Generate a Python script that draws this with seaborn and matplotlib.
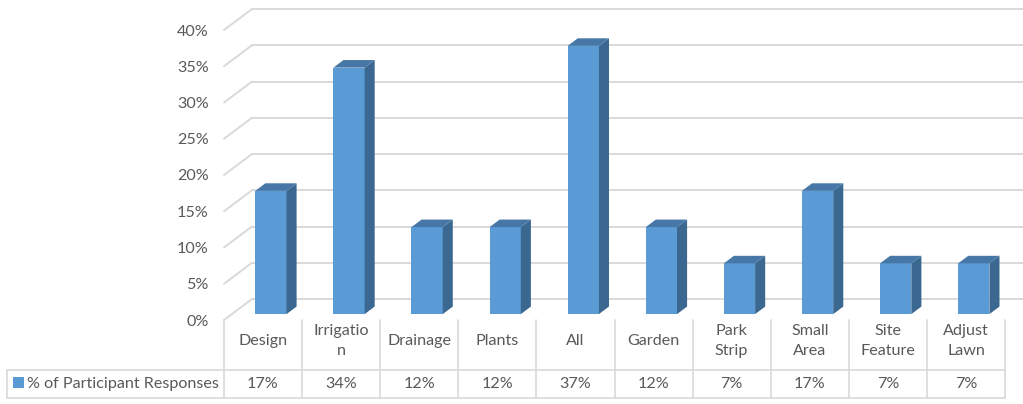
import matplotlib
matplotlib.use("Agg")
import matplotlib.pyplot as plt
import seaborn as sns
import pandas as pd
from matplotlib.patches import Polygon, Rectangle
from matplotlib.lines import Line2D

categories = ["Design", "Irrigation", "Drainage", "Plants", "All", "Garden",
              "Park Strip", "Small Area", "Site Feature", "Adjust Lawn"]
table_labels = ["Design", "Irrigatio\nn", "Drainage", "Plants", "All", "Garden",
                "Park\nStrip", "Small\nArea", "Site\nFeature", "Adjust\nLawn"]
responses = [17, 34, 12, 12, 37, 12, 7, 17, 7, 7]
y_ticks = [0, 5, 10, 15, 20, 25, 30, 35, 40]
series_name = "% of Participant Responses"

FRONT = "#5B9BD5"
SIDE = "#3B6890"
TOP = "#4677A6"
GRID = "#D9D9D9"
TEXT = "#595959"
FS = 11.6

sns.set_theme(style="white")
plt.rcParams["font.family"] = ["Lato", "DejaVu Sans"]

W, H = 1023, 404
fig = plt.figure(figsize=(W / 100, H / 100), dpi=100)
ax_l, ax_r, ax_t, ax_b = 224, 1005, 30, 320
ax = fig.add_axes([ax_l / W, (H - ax_b) / H, (ax_r - ax_l) / W, (ax_b - ax_t) / H])

df = pd.DataFrame({"category": categories, "value": responses})
sns.barplot(data=df, x="category", y="value", color=FRONT, width=0.40,
            saturation=1, ax=ax, zorder=3)
ax.set_xlim(-0.5, len(categories) - 0.5)
ax.set_ylim(0, 40)

# pixel -> data unit conversion
ux = len(categories) / (ax_r - ax_l)
uy = 40 / (ax_b - ax_t)
depth = (28, 21)            # back wall offset in pixels (right, up)
fpos, bdepth = 0.28, 0.36  # bar front position and bar depth as fraction of depth

# back wall gridlines and the receding lines at the left
for v in y_ticks:
    x0 = -0.5 + depth[0] * ux
    y0 = v + depth[1] * uy
    ax.add_line(Line2D([x0, len(categories) + 1], [y0, y0], color=GRID, lw=1.4,
                       clip_on=False, zorder=1))
    ax.add_line(Line2D([-0.5, x0], [v, y0], color=GRID, lw=1.4,
                       clip_on=False, zorder=1))

# 3D bars: shift front face back, add side and top faces
fdx, fdy = depth[0] * fpos * ux, depth[1] * fpos * uy
bdx, bdy = depth[0] * bdepth * ux, depth[1] * bdepth * uy
for p in ax.patches:
    x, w, h = p.get_x(), p.get_width(), p.get_height()
    x += fdx
    y0 = fdy
    p.set_x(x)
    p.set_y(y0)
    p.set_edgecolor("none")
    p.set_clip_on(False)
    x1, y1 = x + w, y0 + h
    side = Polygon([(x1, y0), (x1, y1), (x1 + bdx, y1 + bdy), (x1 + bdx, y0 + bdy)],
                   closed=True, facecolor=SIDE, edgecolor="none", clip_on=False, zorder=3)
    top = Polygon([(x, y1), (x1, y1), (x1 + bdx, y1 + bdy), (x + bdx, y1 + bdy)],
                  closed=True, facecolor=TOP, edgecolor="none", clip_on=False, zorder=3)
    ax.add_patch(side)
    ax.add_patch(top)

ax.set_yticks(y_ticks)
ax.set_yticklabels([f"{v}%" for v in y_ticks], color=TEXT, fontsize=FS)
ax.tick_params(axis="y", length=0, pad=11)
ax.set_xticks([])
ax.set_xlabel("")
ax.set_ylabel("")
for s in ax.spines.values():
    s.set_visible(False)

# data table below the plot
row_top, row_mid, row_bot = 320, 370, 398
def fx(px):
    return px / W
def fy(py):
    return (H - py) / H

TB = "#D9D9D9"
col_edges = [ax_l + i * (ax_r - ax_l) / len(categories) for i in range(len(categories) + 1)]
for xe in col_edges:
    fig.add_artist(Line2D([fx(xe), fx(xe)], [fy(row_top), fy(row_bot)], color=TB, lw=1.2))
fig.add_artist(Line2D([fx(7), fx(7)], [fy(row_mid), fy(row_bot)], color=TB, lw=1.2))
fig.add_artist(Line2D([fx(7), fx(ax_r)], [fy(row_mid), fy(row_mid)], color=TB, lw=1.2))
fig.add_artist(Line2D([fx(7), fx(ax_r)], [fy(row_bot), fy(row_bot)], color=TB, lw=1.2))

for i, (lab, v) in enumerate(zip(table_labels, responses)):
    cx = (col_edges[i] + col_edges[i + 1]) / 2
    fig.text(fx(cx), fy(341), lab, ha="center", va="center", color=TEXT,
             fontsize=FS, linespacing=1.62)
    fig.text(fx(cx), fy(384), f"{v}%", ha="center", va="center", color=TEXT,
             fontsize=FS)

fig.add_artist(Rectangle((fx(13), fy(388)), 11 / W, 11 / H, facecolor=FRONT,
                         edgecolor="none"))
fig.text(fx(27), fy(384), series_name, ha="left", va="center", color=TEXT,
         fontsize=FS)

fig.savefig("out.png", dpi=100, facecolor="white")
